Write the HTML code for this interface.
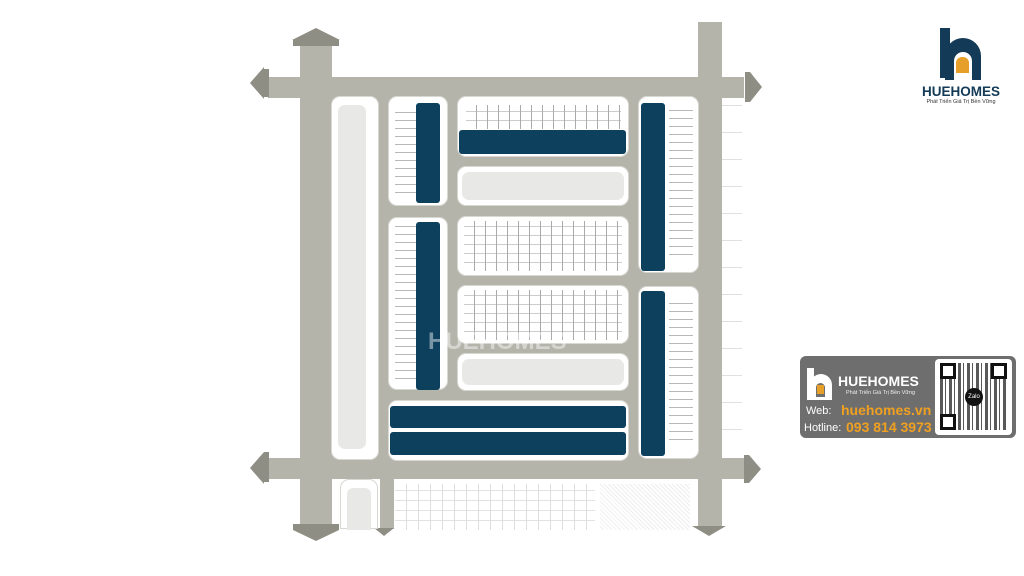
<!DOCTYPE html>
<html><head><meta charset="utf-8"><style>
*{margin:0;padding:0;box-sizing:border-box}
body{width:1024px;height:576px;background:#fff;position:relative;overflow:hidden;font-family:"Liberation Sans",sans-serif}
.a{position:absolute}
.g{background:#b4b4ab}
.blk{position:absolute;background:#fff;border-radius:9px;border:1px solid #d8d8d2}
.lg{position:absolute;background:#e8e8e6;border-radius:7px}
.bl{position:absolute;background:#0c405d;border-radius:3px}
.lots{position:absolute;background:repeating-linear-gradient(0deg,transparent 0 7px,#b8b8b8 7px 8px)}
.lotsv{position:absolute;background:repeating-linear-gradient(90deg,transparent 0 10px,#aaa 10px 11px),repeating-linear-gradient(0deg,transparent 0 8px,#ccc 8px 9px)}
.dots{position:absolute;background:radial-gradient(circle,transparent 1.2px,#777 1.3px,#777 1.8px,transparent 2px) 0 0/10px 10px}
</style></head><body>
<!-- roads -->
<div class="a g" style="left:300px;top:40px;width:32px;height:490px"></div>
<div class="a g" style="left:698px;top:22px;width:24px;height:506px"></div>
<div class="a g" style="left:268px;top:77px;width:476px;height:21px"></div>
<div class="a g" style="left:268px;top:458px;width:476px;height:21px"></div>
<div class="a g" style="left:300px;top:77px;width:422px;height:402px"></div>
<div class="a g" style="left:380px;top:479px;width:14px;height:50px"></div>
<!-- arrows -->
<div class="a" style="left:292px;top:28px;width:48px;height:12px;background:#8e8e85;clip-path:polygon(50% 0,100% 100%,0 100%)"></div>
<div class="a" style="left:293px;top:40px;width:46px;height:6px;background:#8e8e85"></div>
<div class="a" style="left:250px;top:67px;width:14px;height:32px;background:#8e8e85;clip-path:polygon(0 50%,100% 0,100% 100%)"></div>
<div class="a" style="left:264px;top:69px;width:5px;height:28px;background:#8e8e85"></div>
<div class="a" style="left:745px;top:72px;width:5px;height:30px;background:#8e8e85"></div>
<div class="a" style="left:750px;top:72px;width:12px;height:30px;background:#8e8e85;clip-path:polygon(0 0,100% 50%,0 100%)"></div>
<div class="a" style="left:250px;top:452px;width:14px;height:32px;background:#8e8e85;clip-path:polygon(0 50%,100% 0,100% 100%)"></div>
<div class="a" style="left:264px;top:452px;width:5px;height:30px;background:#8e8e85"></div>
<div class="a" style="left:744px;top:455px;width:5px;height:28px;background:#8e8e85"></div>
<div class="a" style="left:749px;top:455px;width:12px;height:28px;background:#8e8e85;clip-path:polygon(0 0,100% 50%,0 100%)"></div>
<div class="a" style="left:293px;top:524px;width:46px;height:6px;background:#8e8e85"></div>
<div class="a" style="left:293px;top:530px;width:46px;height:11px;background:#8e8e85;clip-path:polygon(0 0,100% 0,50% 100%)"></div>
<div class="a" style="left:374px;top:528px;width:20px;height:8px;background:#8e8e85;clip-path:polygon(0 0,100% 0,50% 100%)"></div>
<div class="a" style="left:692px;top:526px;width:34px;height:10px;background:#8e8e85;clip-path:polygon(0 0,100% 0,50% 100%)"></div>
<!-- blocks -->
<div class="blk" style="left:331px;top:96px;width:48px;height:364px"><div class="lg" style="left:6px;top:8px;width:28px;height:344px"></div></div>
<div class="blk" style="left:388px;top:96px;width:60px;height:110px"><div class="lots" style="left:6px;top:8px;width:22px;height:95px"></div><div class="bl" style="left:27px;top:6px;width:24px;height:100px"></div></div>
<div class="blk" style="left:388px;top:217px;width:60px;height:173px"><div class="lots" style="left:6px;top:8px;width:22px;height:160px"></div><div class="bl" style="left:27px;top:4px;width:24px;height:168px"></div></div>
<div class="blk" style="left:457px;top:96px;width:172px;height:61px"><div class="lotsv" style="left:8px;top:8px;width:155px;height:24px"></div><div class="bl" style="left:1px;top:33px;width:167px;height:24px"></div></div>
<div class="blk" style="left:457px;top:166px;width:172px;height:40px"><div class="lg" style="left:4px;top:5px;width:162px;height:28px"></div></div>
<div class="blk" style="left:457px;top:216px;width:172px;height:60px"><div class="lotsv" style="left:6px;top:4px;width:158px;height:50px"></div></div>
<div class="blk" style="left:457px;top:285px;width:172px;height:59px"><div class="lotsv" style="left:6px;top:4px;width:158px;height:50px"></div></div>
<div class="blk" style="left:457px;top:353px;width:172px;height:38px"><div class="lg" style="left:4px;top:5px;width:162px;height:26px"></div></div>
<div class="blk" style="left:388px;top:400px;width:241px;height:61px"><div class="bl" style="left:1px;top:5px;width:236px;height:22px"></div><div class="bl" style="left:1px;top:31px;width:236px;height:23px"></div></div>
<div class="blk" style="left:638px;top:96px;width:61px;height:177px"><div class="bl" style="left:2px;top:6px;width:24px;height:168px"></div><div class="lots" style="left:30px;top:10px;width:24px;height:155px"></div></div>
<div class="blk" style="left:638px;top:286px;width:61px;height:173px"><div class="bl" style="left:2px;top:4px;width:24px;height:165px"></div><div class="lots" style="left:30px;top:10px;width:24px;height:150px"></div></div>
<div class="blk" style="left:340px;top:479px;width:38px;height:50px;border-radius:9px 9px 0 0"><div class="lg" style="left:6px;top:8px;width:24px;height:42px;border-radius:6px 6px 0 0"></div></div>
<div class="a" style="left:394px;top:479px;width:298px;height:52px;background:#fff;border-radius:9px 9px 0 0"></div>
<div class="a" style="left:395px;top:484px;width:200px;height:46px;background:repeating-linear-gradient(90deg,transparent 0 11px,#ddd 11px 12px),repeating-linear-gradient(0deg,transparent 0 9px,#e2e2e2 9px 10px)"></div>
<div class="a" style="left:600px;top:484px;width:90px;height:46px;background:repeating-linear-gradient(45deg,#fff 0 2px,#eee 2px 3px)"></div>
<div class="a" style="left:722px;top:96px;width:20px;height:360px;background:repeating-linear-gradient(0deg,transparent 0 26px,#e0e0e0 26px 27px)"></div>
<!-- watermark -->
<div class="a" style="left:428px;top:328px;font-size:24px;font-weight:bold;color:rgba(255,255,255,.45)">HUEHOMES</div>
<!-- top logo -->
<div class="a" style="left:940px;top:28px;width:10px;height:50px;background:#133a57"></div>
<div class="a" style="left:945px;top:38px;width:36px;height:42px;background:#133a57;border-radius:18px 18px 0 0"></div>
<div class="a" style="left:954px;top:52px;width:18px;height:28px;background:#fff;border-radius:9px 9px 0 0"></div>
<div class="a" style="left:956px;top:57px;width:13px;height:16px;background:#e6a02a;border-radius:6px 6px 0 0"></div>
<div class="a" style="left:916px;top:84px;width:90px;font-size:13.5px;font-weight:bold;color:#133a57;text-align:center">HUEHOMES</div>
<div class="a" style="left:916px;top:99px;width:90px;font-size:5.5px;color:#333;text-align:center">Phát Triển Giá Trị Bền Vững</div>
<!-- card -->
<div class="a" style="left:800px;top:356px;width:216px;height:82px;background:#6e6e6e;border-radius:6px"></div>
<div class="a" style="left:807px;top:368px;width:7px;height:32px;background:#fff"></div>
<div class="a" style="left:810px;top:374px;width:22px;height:26px;background:#fff;border-radius:11px 11px 0 0"></div>
<div class="a" style="left:816px;top:383px;width:9px;height:14px;background:#6e6e6e;border-radius:5px 5px 0 0"></div>
<div class="a" style="left:817px;top:385px;width:7px;height:9px;background:#e6a02a"></div>
<div class="a" style="left:838px;top:373px;font-size:14px;font-weight:bold;color:#fff">HUEHOMES</div>
<div class="a" style="left:846px;top:390px;font-size:5.5px;color:#eee">Phát Triển Giá Trị Bền Vững</div>
<div class="a" style="left:806px;top:405px;font-size:11px;color:#fff">Web:</div>
<div class="a" style="left:841px;top:402px;font-size:14px;font-weight:bold;color:#f0a020">huehomes.vn</div>
<div class="a" style="left:804px;top:422px;font-size:11px;color:#fff">Hotline:</div>
<div class="a" style="left:846px;top:419px;font-size:14px;font-weight:bold;color:#f0a020">093 814 3973</div>
<div class="a" style="left:935px;top:359px;width:77px;height:76px;background:#fff;border-radius:4px"></div>
<div class="a" style="left:940px;top:363px;width:67px;height:67px;background:repeating-linear-gradient(90deg,#222 0 3px,transparent 3px 5px,#222 5px 6px,transparent 6px 9px),repeating-linear-gradient(0deg,#fff 0 2px,transparent 2px 5px);opacity:.75"></div>
<div class="a" style="left:940px;top:363px;width:16px;height:16px;border:3px solid #111;background:#fff"></div>
<div class="a" style="left:991px;top:363px;width:16px;height:16px;border:3px solid #111;background:#fff"></div>
<div class="a" style="left:940px;top:414px;width:16px;height:16px;border:3px solid #111;background:#fff"></div>
<div class="a" style="left:965px;top:388px;width:18px;height:18px;border-radius:50%;background:#111;color:#fff;font-size:6px;text-align:center;line-height:18px">Zalo</div>
</body></html>
